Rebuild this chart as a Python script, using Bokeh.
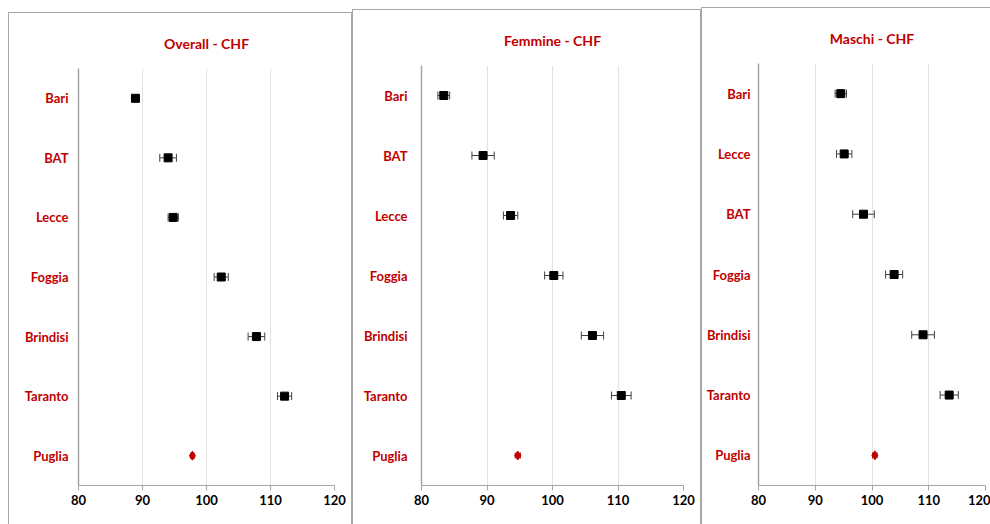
from bokeh.plotting import figure
from bokeh.models import (ColumnDataSource, Whisker, FactorRange, Range1d, FixedTicker,
                          TeeHead, Spacer)
from bokeh.layouts import row
from bokeh.embed import file_html
from bokeh.resources import INLINE

# ---- data ----
x_ticks = [80, 90, 100, 110, 120]

overall_title = "Overall - CHF"
overall_cats = ["Bari", "BAT", "Lecce", "Foggia", "Brindisi", "Taranto", "Puglia"]
overall_val = [88.9, 94.0, 94.8, 102.3, 107.8, 112.2, 97.8]
overall_err = [0.4, 1.3, 0.8, 1.1, 1.3, 1.1, 0.3]

femmine_title = "Femmine - CHF"
femmine_cats = ["Bari", "BAT", "Lecce", "Foggia", "Brindisi", "Taranto", "Puglia"]
femmine_val = [83.4, 89.4, 93.6, 100.2, 106.1, 110.5, 94.7]
femmine_err = [0.9, 1.7, 1.1, 1.4, 1.7, 1.5, 0.4]

maschi_title = "Maschi - CHF"
maschi_cats = ["Bari", "Lecce", "BAT", "Foggia", "Brindisi", "Taranto", "Puglia"]
maschi_val = [94.5, 95.1, 98.5, 103.9, 109.0, 113.6, 100.5]
maschi_err = [1.0, 1.35, 1.9, 1.5, 2.0, 1.6, 0.4]

total_label = "Puglia"

RED = "#c00000"
GRID = "#e3e3e3"
AXIS = "#a6a6a6"
FONT = "Lato"


def panel(title, cats, vals, errs, width, height, b_left, b_right, b_top, lab_off, css):
    p = figure(width=width, height=height, output_backend="svg", toolbar_location=None,
               x_range=Range1d(80, 120), y_range=FactorRange(factors=list(reversed(cats))),
               min_border_left=b_left, min_border_right=b_right,
               min_border_top=b_top, min_border_bottom=40,
               title=title, styles=css)
    p.title.text_color = RED
    p.title.text_font = FONT
    p.title.text_font_style = "bold"
    p.title.text_font_size = "14px"
    p.title.align = "center"
    p.title.standoff = 34
    p.outline_line_color = None
    p.background_fill_color = "white"
    p.border_fill_color = "white"

    p.xaxis.ticker = FixedTicker(ticks=x_ticks)
    p.xaxis.minor_tick_line_color = None
    p.xaxis.major_tick_in = 0
    p.xaxis.major_tick_out = 5
    p.xaxis.major_tick_line_color = AXIS
    p.xaxis.axis_line_color = AXIS
    p.xaxis.major_label_text_font = FONT
    p.xaxis.major_label_text_font_style = "bold"
    p.xaxis.major_label_text_font_size = "13px"
    p.xaxis.major_label_text_color = "black"
    p.xaxis.major_label_standoff = 4

    p.yaxis.axis_line_color = AXIS
    p.yaxis.axis_line_width = 1.5
    p.yaxis.major_tick_line_color = None
    p.yaxis.minor_tick_line_color = None
    p.yaxis.major_label_text_color = RED
    p.yaxis.major_label_text_font = FONT
    p.yaxis.major_label_text_font_style = "bold"
    p.yaxis.major_label_text_font_size = "13px"
    p.yaxis.major_label_standoff = lab_off

    p.xgrid.grid_line_color = GRID
    p.xgrid.grid_line_width = 1.2
    p.ygrid.grid_line_color = None

    reg_c = [c for c in cats if c != total_label]
    reg_v = [v for c, v in zip(cats, vals) if c != total_label]
    reg_e = [e for c, e in zip(cats, errs) if c != total_label]
    src = ColumnDataSource(dict(cat=reg_c, val=reg_v,
                                lo=[v - e for v, e in zip(reg_v, reg_e)],
                                hi=[v + e for v, e in zip(reg_v, reg_e)]))
    tot_i = cats.index(total_label)
    tsrc = ColumnDataSource(dict(cat=[total_label], val=[vals[tot_i]],
                                 lo=[vals[tot_i] - errs[tot_i]],
                                 hi=[vals[tot_i] + errs[tot_i]]))

    p.add_layout(Whisker(source=src, base="cat", lower="lo", upper="hi", dimension="width",
                         line_color="#404040", line_width=1,
                         upper_head=TeeHead(size=8, line_color="#404040", line_width=1),
                         lower_head=TeeHead(size=8, line_color="#404040", line_width=1)))
    p.scatter(x="val", y="cat", source=src, marker="square", size=8,
              fill_color="black", line_color="black")

    p.add_layout(Whisker(source=tsrc, base="cat", lower="lo", upper="hi", dimension="width",
                         line_color=RED, line_width=1,
                         upper_head=TeeHead(size=6, line_color=RED, line_width=1),
                         lower_head=TeeHead(size=6, line_color=RED, line_width=1)))
    p.scatter(x="val", y="cat", source=tsrc, marker="diamond", size=9,
              fill_color=RED, line_color=RED)
    return p


B = "1px solid #a6a6a6"
p1 = panel(overall_title, overall_cats, overall_val, overall_err, 344, 512, 69, 19, 55, 4,
           {"border-left": B, "border-top": B, "border-right": B, "margin-top": "12px"})
p2 = panel(femmine_title, femmine_cats, femmine_val, femmine_err, 349, 515, 68, 19, 55, 8,
           {"border-left": B, "border-top": B, "border-right": B, "margin-top": "9px"})
p3 = panel(maschi_title, maschi_cats, maschi_val, maschi_err, 289, 517, 56, 6, 55, 2,
           {"border-left": B, "border-top": B, "margin-top": "7px"})

layout = row(Spacer(width=8, height=10), p1, p2, p3, spacing=0)
open("out.html", "w").write(file_html(layout, INLINE))
